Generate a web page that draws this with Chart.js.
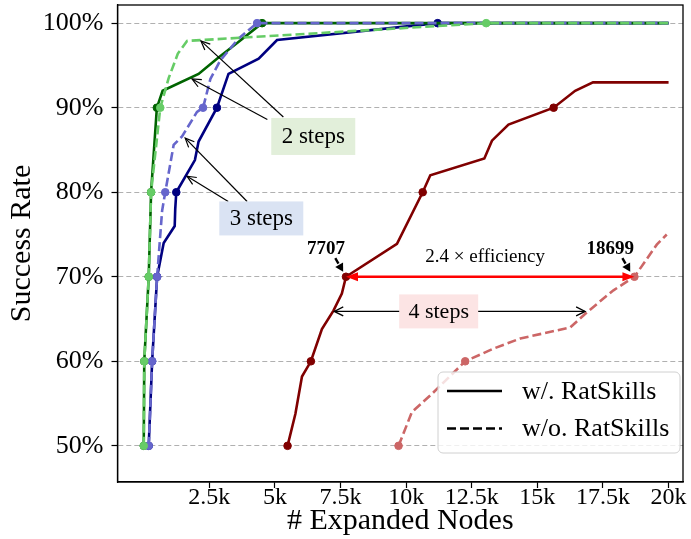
<!DOCTYPE html>
<html>
<head>
<meta charset="utf-8">
<script src="https://cdn.jsdelivr.net/npm/chart.js@4.4.0/dist/chart.umd.min.js"></script>
<style>
  html, body { margin: 0; padding: 0; background: #fff; }
</style>
</head>
<body>
<canvas id="chart" width="691" height="539"></canvas>
<script>
const xTicks = [2500, 5000, 7500, 10000, 12500, 15000, 17500, 20000];
const xTickLabels = ["2.5k", "5k", "7.5k", "10k", "12.5k", "15k", "17.5k", "20k"];
const yTicks = [50, 60, 70, 80, 90, 100];
const yTickLabels = ["50%", "60%", "70%", "80%", "90%", "100%"];

// expanded nodes (x) and success rate in % (y)
const twoWithX = [0, 20, 190, 280, 500, 720, 2090, 2790, 3620, 4510, 20000];
const twoWithY = [50, 60, 70, 80, 90, 92, 94, 95.8, 97.8, 100, 100];
const twoWithoutX = [0, 20, 190, 280, 630, 950, 1300, 1650, 13050, 20000];
const twoWithoutY = [50, 60, 70, 80, 90, 93.5, 96.4, 97.9, 100, 100];

const threeWithX = [190, 320, 510, 760, 1180, 1200, 1240, 1950, 2090, 2790, 3230, 4380, 5080, 11200, 20000];
const threeWithY = [50, 60, 70, 74, 76, 78, 80, 83.8, 86, 90, 94, 95.8, 98, 100, 100];
const threeWithoutX = [190, 320, 510, 700, 820, 1140, 1460, 2030, 2260, 2540, 2920, 3620, 4320, 20000];
const threeWithoutY = [50, 60, 70, 77.8, 80, 85.6, 86.6, 89.5, 90, 93.4, 95.6, 98.2, 100, 100];

const fourWithX = [5480, 5780, 6030, 6370, 6790, 7230, 7550, 7707, 9650, 10630, 10920, 12980, 13270, 13900, 15620, 16440, 17120, 20000];
const fourWithY = [50, 53.8, 58.2, 60, 63.8, 66, 68, 70, 73.9, 80, 82, 84, 86.1, 88, 90, 92, 93, 93];
const fourWithoutX = [9710, 10220, 11000, 12250, 13330, 14350, 16250, 16890, 17900, 18699, 19550, 19930];
const fourWithoutY = [50, 54, 56.2, 60, 61.5, 62.7, 64, 65.8, 68.4, 70, 73.8, 75];

const SERIF = '"Liberation Serif", "Times New Roman", serif';

function pts(xs, ys) {
  return xs.map((x, i) => ({ x: x, y: ys[i] }));
}

// circle marker each time a curve first reaches a 10% level
function markerRadius(ctx) {
  const d = ctx.dataset.data, i = ctx.dataIndex;
  const y = d[i].y;
  const first = i === 0 || d[i - 1].y !== y;
  return (y % 10 === 0 && first) ? 3.8 : 0;
}

function series(xs, ys, color, dashed) {
  return {
    data: pts(xs, ys),
    borderColor: color,
    backgroundColor: color,
    pointBackgroundColor: color,
    pointBorderColor: color,
    borderWidth: 2.6,
    borderDash: dashed ? [9, 4] : [],
    pointRadius: markerRadius,
    pointBorderWidth: 1,
    tension: 0,
    fill: false
  };
}

function arrowHead(ctx, x1, y1, x2, y2, len, wid, filled) {
  const a = Math.atan2(y2 - y1, x2 - x1);
  const bx = x2 - len * Math.cos(a), by = y2 - len * Math.sin(a);
  const px = -Math.sin(a) * wid, py = Math.cos(a) * wid;
  ctx.beginPath();
  ctx.moveTo(bx + px, by + py);
  ctx.lineTo(x2, y2);
  ctx.lineTo(bx - px, by - py);
  if (filled) {
    ctx.closePath();
    ctx.fill();
  } else {
    ctx.stroke();
  }
}

function line(ctx, x1, y1, x2, y2) {
  ctx.beginPath();
  ctx.moveTo(x1, y1);
  ctx.lineTo(x2, y2);
  ctx.stroke();
}

function labelBox(ctx, cx, cy, w, h, bg, text, size) {
  ctx.fillStyle = bg;
  ctx.fillRect(cx - w / 2, cy - h / 2, w, h);
  ctx.fillStyle = '#000';
  ctx.font = size + 'px ' + SERIF;
  ctx.textAlign = 'center';
  ctx.textBaseline = 'middle';
  ctx.fillText(text, cx, cy + 1);
}

const annotations = {
  id: 'annotations',
  afterDatasetsDraw(chart) {
    const ctx = chart.ctx;
    const xs = chart.scales.x, ys = chart.scales.y;
    const X = v => xs.getPixelForValue(v);
    const Y = v => ys.getPixelForValue(v);
    const area = chart.chartArea;
    ctx.save();

    // thin black pointer arrows for "2 steps" and "3 steps"
    ctx.strokeStyle = '#000';
    ctx.fillStyle = '#000';
    ctx.lineWidth = 1.2;
    const pointers = [
      [5320, 88.9, 2180, 97.9],
      [4710, 88.6, 1840, 93.4],
      [3940, 78.9, 1580, 86.4],
      [3220, 78.9, 1650, 81.9]
    ];
    pointers.forEach(p => {
      const x1 = X(p[0]), y1 = Y(p[1]), x2 = X(p[2]), y2 = Y(p[3]);
      line(ctx, x1, y1, x2, y2);
      arrowHead(ctx, x1, y1, x2, y2, 9, 4, false);
    });

    labelBox(ctx, X(6460), Y(86.6), 84, 37, '#e2efda', '2 steps', 23);
    labelBox(ctx, X(4480), Y(76.9), 84, 34, '#dae3f3', '3 steps', 23);

    // red efficiency arrow between the two 70% points
    ctx.strokeStyle = '#ff0000';
    ctx.fillStyle = '#ff0000';
    ctx.lineWidth = 2.6;
    const rx1 = X(7707), rx2 = X(18699), ry = Y(70);
    line(ctx, rx1 + 8, ry, rx2 - 8, ry);
    arrowHead(ctx, rx2, ry, rx1, ry, 12, 4.5, true);
    arrowHead(ctx, rx1, ry, rx2, ry, 12, 4.5, true);

    ctx.fillStyle = '#000';
    ctx.font = '19px ' + SERIF;
    ctx.textAlign = 'center';
    ctx.textBaseline = 'middle';
    ctx.fillText('2.4 \u00d7 efficiency', X(13010), Y(72.3));

    ctx.font = 'bold 19px ' + SERIF;
    ctx.fillText('7707', X(6950), Y(73.3));
    ctx.fillText('18699', X(17780), Y(73.3));

    // short bold arrows to the 70% points
    ctx.strokeStyle = '#000';
    ctx.lineWidth = 2.4;
    [[7300, 72.2, 7600, 70.6], [18240, 72.2, 18540, 70.6]].forEach(p => {
      const x1 = X(p[0]), y1 = Y(p[1]), x2 = X(p[2]), y2 = Y(p[3]);
      line(ctx, x1, y1, x1 + (x2 - x1) * 0.4, y1 + (y2 - y1) * 0.4);
      arrowHead(ctx, x1, y1, x2, y2, 8, 4.5, true);
    });

    // "4 steps" double arrow
    ctx.lineWidth = 1.3;
    const bx1 = X(7260), bx2 = X(16820), by = Y(65.9);
    line(ctx, bx1, by, bx2, by);
    arrowHead(ctx, bx2, by, bx1, by, 9, 4.5, false);
    arrowHead(ctx, bx1, by, bx2, by, 9, 4.5, false);
    labelBox(ctx, X(11240), by, 79, 34, '#fce4e4', '4 steps', 22);

    // legend
    const lx = area.right - 245, ly = area.bottom - 110, lw = 242, lh = 81;
    ctx.beginPath();
    ctx.roundRect(lx, ly, lw, lh, 5);
    ctx.fillStyle = 'rgba(255,255,255,0.8)';
    ctx.fill();
    ctx.strokeStyle = '#d0d0d0';
    ctx.lineWidth = 1;
    ctx.stroke();

    ctx.strokeStyle = '#000';
    ctx.lineWidth = 2.6;
    line(ctx, lx + 9, ly + 19, lx + 64, ly + 19);
    ctx.setLineDash([9, 4]);
    line(ctx, lx + 9, ly + 56.5, lx + 64, ly + 56.5);
    ctx.setLineDash([]);
    ctx.fillStyle = '#000';
    ctx.font = '26px ' + SERIF;
    ctx.textAlign = 'left';
    ctx.textBaseline = 'middle';
    ctx.fillText('w/. RatSkills', lx + 84, ly + 20);
    ctx.fillText('w/o. RatSkills', lx + 84, ly + 57);

    // frame around the plot
    ctx.strokeStyle = '#000';
    ctx.lineWidth = 1.3;
    ctx.strokeRect(area.left, area.top, area.right - area.left, area.bottom - area.top);
    ctx.restore();
  }
};

new Chart('chart', {
  type: 'line',
  data: {
    datasets: [
      series(twoWithoutX, twoWithoutY, '#66cc66', true),
      series(threeWithoutX, threeWithoutY, '#6666cc', true),
      series(fourWithoutX, fourWithoutY, '#cc6666', true),
      series(twoWithX, twoWithY, '#006400', false),
      series(threeWithX, threeWithY, '#000080', false),
      series(fourWithX, fourWithY, '#800000', false)
    ]
  },
  options: {
    responsive: false,
    animation: false,
    layout: { padding: { top: 1, right: 8, left: 0, bottom: 0 } },
    plugins: {
      legend: { display: false },
      tooltip: { enabled: false }
    },
    scales: {
      x: {
        type: 'linear',
        min: -1000,
        max: 20550,
        afterBuildTicks: s => { s.ticks = xTicks.map(v => ({ value: v })); },
        afterFit: s => { s.height = 57; s.paddingLeft = 0; s.paddingRight = 0; },
        ticks: {
          callback: v => xTickLabels[xTicks.indexOf(v)],
          font: { family: SERIF, size: 24, lineHeight: 1 },
          color: '#000',
          padding: -2,
          maxRotation: 0,
          autoSkip: false
        },
        grid: { drawOnChartArea: false, tickLength: 6, tickColor: '#000', tickWidth: 1.2 },
        border: { color: '#000', width: 1.3 },
        title: {
          display: true,
          text: '# Expanded Nodes',
          font: { family: SERIF, size: 30 },
          color: '#000',
          padding: { top: 0, bottom: 0 }
        }
      },
      y: {
        type: 'linear',
        min: 45.72,
        max: 102.15,
        afterBuildTicks: s => { s.ticks = yTicks.map(v => ({ value: v })); },
        afterFit: s => { s.width = 117.5; s.paddingTop = 0; s.paddingBottom = 0; },
        ticks: {
          callback: v => yTickLabels[yTicks.indexOf(v)],
          font: { family: SERIF, size: 26 },
          color: '#000',
          padding: 8
        },
        grid: {
          color: '#b0b0b0',
          lineWidth: 1,
          tickLength: 6,
          tickColor: '#000',
          tickWidth: 1.2,
          tickBorderDash: []
        },
        border: { color: '#000', width: 1.3, dash: [5, 3] },
        title: {
          display: true,
          text: 'Success Rate',
          font: { family: SERIF, size: 30 },
          color: '#000',
          padding: { top: 4, bottom: 0 }
        }
      }
    }
  },
  plugins: [annotations]
});
</script>
</body>
</html>
